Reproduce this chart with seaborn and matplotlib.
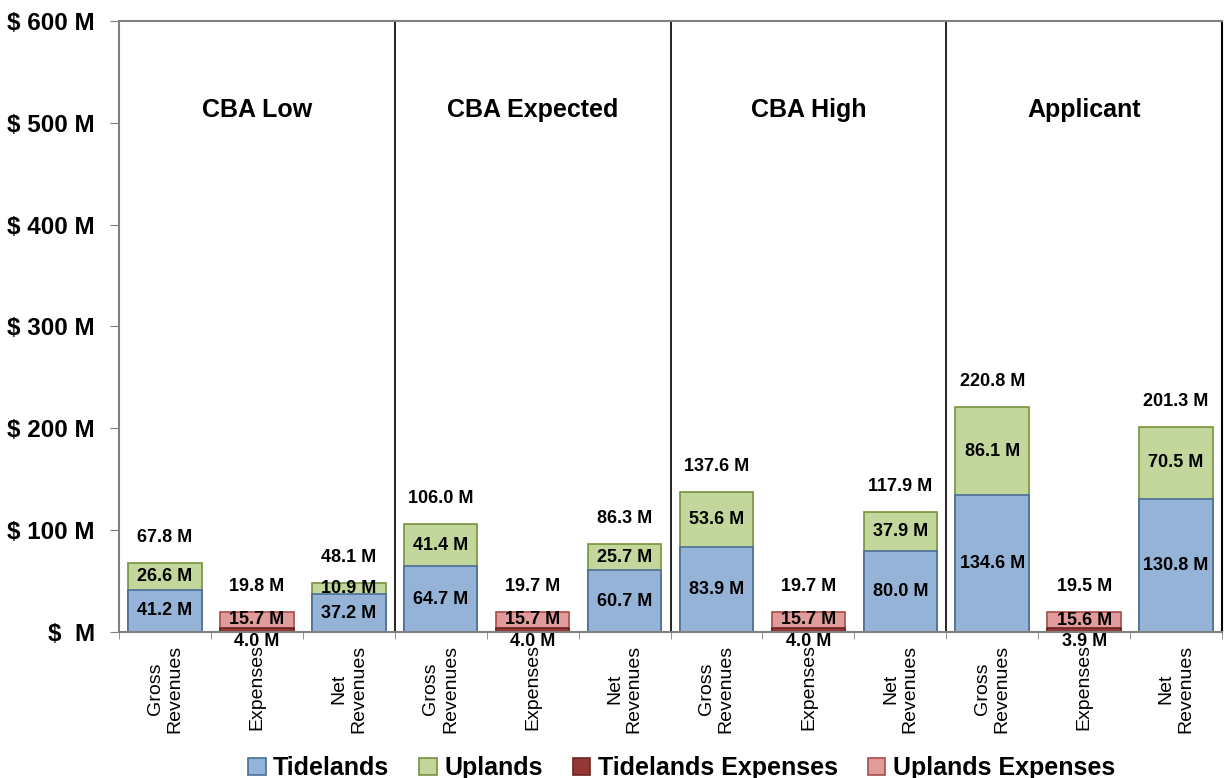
import matplotlib
matplotlib.use("Agg")
import matplotlib.pyplot as plt
from matplotlib.patches import Patch
import pandas as pd
import seaborn as sns

# scenarios and the three bars drawn for each one
scenarios = ["CBA Low", "CBA Expected", "CBA High", "Applicant"]
bar_kinds = ["Gross\nRevenues", "Expenses", "Net\nRevenues"]

# values in $ M
tidelands_gross = [41.2, 64.7, 83.9, 134.6]
uplands_gross = [26.6, 41.4, 53.6, 86.1]
tidelands_net = [37.2, 60.7, 80.0, 130.8]
uplands_net = [10.9, 25.7, 37.9, 70.5]
tidelands_exp = [4.0, 4.0, 4.0, 3.9]
uplands_exp = [15.7, 15.7, 15.7, 15.6]
gross_totals = [67.8, 106.0, 137.6, 220.8]
exp_totals = [19.8, 19.7, 19.7, 19.5]
net_totals = [48.1, 86.3, 117.9, 201.3]

y_ticks = [0, 100, 200, 300, 400, 500, 600]
y_tick_labels = ["$  M", "$ 100 M", "$ 200 M", "$ 300 M", "$ 400 M", "$ 500 M", "$ 600 M"]

colors = {
    "Tidelands": ("#95B3D7", "#4A6E96"),
    "Uplands": ("#C3D69B", "#76923C"),
    "Tidelands Expenses": ("#953735", "#6B2523"),
    "Uplands Expenses": ("#E09C9B", "#A84B49"),
}

# one row per bar slot
rows = []
for i, sc in enumerate(scenarios):
    rows.append(dict(slot=f"{sc}|g", kind="rev", low=tidelands_gross[i], high=uplands_gross[i], total=gross_totals[i]))
    rows.append(dict(slot=f"{sc}|e", kind="exp", low=tidelands_exp[i], high=uplands_exp[i], total=exp_totals[i]))
    rows.append(dict(slot=f"{sc}|n", kind="rev", low=tidelands_net[i], high=uplands_net[i], total=net_totals[i]))
df = pd.DataFrame(rows)
df["stack"] = df["low"] + df["high"]
order = list(df["slot"])

plt.rcParams["font.family"] = ["Liberation Sans", "DejaVu Sans"]
fig = plt.figure(figsize=(12.25, 7.78), dpi=100)
ax = fig.add_axes([0.0971, 0.1877, 0.9005, 0.7853])

rev = df[df["kind"] == "rev"]
exp = df[df["kind"] == "exp"]

# stacked bars: draw full stack first, then the bottom piece on top of it
sns.barplot(data=rev, x="slot", y="stack", order=order, color=colors["Uplands"][0],
            edgecolor=colors["Uplands"][1], linewidth=1.2, width=0.8, saturation=1, ax=ax)
sns.barplot(data=rev, x="slot", y="low", order=order, color=colors["Tidelands"][0],
            edgecolor=colors["Tidelands"][1], linewidth=1.2, width=0.8, saturation=1, ax=ax)
sns.barplot(data=exp, x="slot", y="stack", order=order, color=colors["Uplands Expenses"][0],
            edgecolor=colors["Uplands Expenses"][1], linewidth=1.2, width=0.8, saturation=1, ax=ax)
sns.barplot(data=exp, x="slot", y="low", order=order, color=colors["Tidelands Expenses"][0],
            edgecolor=colors["Tidelands Expenses"][1], linewidth=1.2, width=0.8, saturation=1, ax=ax)

lab = dict(ha="center", va="center", fontsize=13, fontweight="bold", color="black")
for x, r in enumerate(df.itertuples()):
    ax.text(x, r.total + 25, f"{r.total:.1f} M", **lab)
    if r.kind == "rev":
        ax.text(x, r.low / 2, f"{r.low:.1f} M", **lab)
        ax.text(x, r.low + r.high / 2, f"{r.high:.1f} M", **lab)
    else:
        # tidelands expenses label sits just under the axis, like the original
        ax.text(x, -9, f"{r.low:.1f} M", **lab)
        ax.text(x, r.low + r.high / 2, f"{r.high:.1f} M", **lab)

# group separators and scenario titles
for g, sc in enumerate(scenarios):
    ax.axvline(3 * g + 2.5, color="black", lw=1.2)
    ax.text(3 * g + 1, 513, sc, ha="center", va="center", fontsize=18, fontweight="bold")

ax.set_xlim(-0.5, 11.5)
ax.set_ylim(0, 600)
ax.set_yticks(y_ticks)
ax.set_yticklabels(y_tick_labels, fontsize=17.5, fontweight="bold")
ax.set_xticks(range(12))
ax.set_xticklabels(bar_kinds * 4, rotation=90, fontsize=14, va="top", ha="center")
ax.set_xticks([i - 0.5 for i in range(13)], minor=True)
ax.tick_params(axis="x", which="major", length=0, pad=9)
ax.tick_params(axis="x", which="minor", length=5, color="#808080", direction="out")
ax.tick_params(axis="y", length=6.5, color="#808080", direction="out", pad=11)
ax.set_xlabel("")
ax.set_ylabel("")
for s in ["left", "top", "bottom"]:
    ax.spines[s].set_color("#808080")
    ax.spines[s].set_linewidth(1.5)
ax.spines["right"].set_color("black")
ax.spines["right"].set_linewidth(1.5)

handles = [Patch(facecolor=fc, edgecolor=ec, linewidth=1.2, label=name) for name, (fc, ec) in colors.items()]
ax.legend(handles=handles, loc="upper center", bbox_to_anchor=(0.51, -0.187), ncol=4, frameon=False,
          prop=dict(size=18, weight="bold"), handlelength=0.7, handleheight=0.7,
          handletextpad=0.3, columnspacing=1.2, borderaxespad=0)

fig.savefig("out.png", dpi=100)
